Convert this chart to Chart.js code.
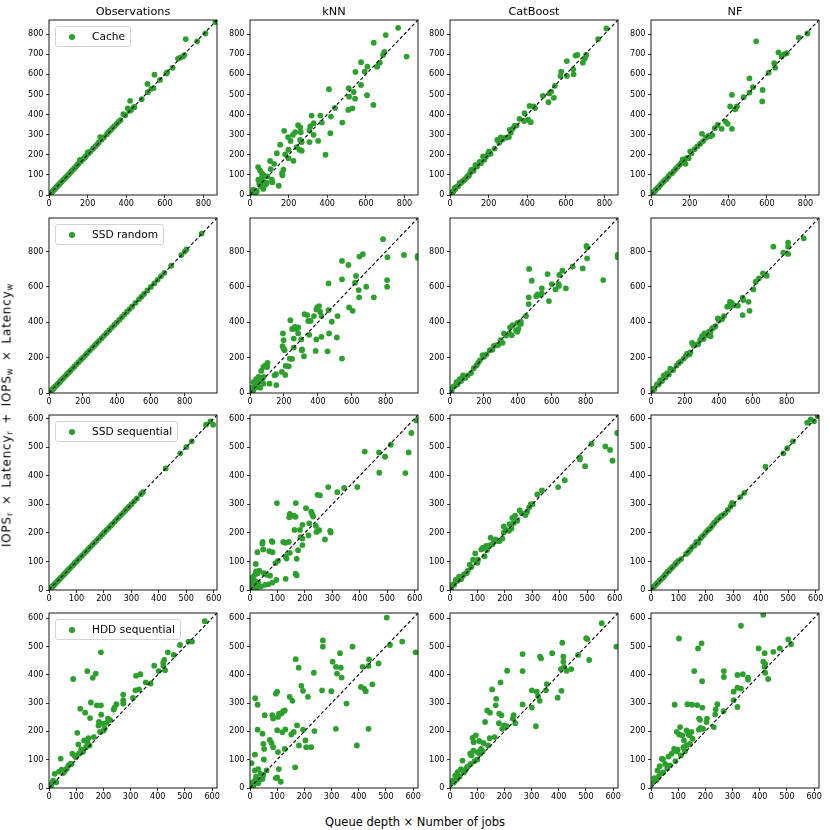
<!DOCTYPE html>
<html><head><meta charset="utf-8">
<script src="https://cdn.jsdelivr.net/npm/chart.js@4.4.1/dist/chart.umd.min.js"></script>
<style>
body{margin:0;background:#fff;width:830px;height:830px;position:relative;overflow:hidden;font-family:"DejaVu Sans",sans-serif;color:#000;}
.pw{position:absolute;}
.title{position:absolute;font-size:11.3px;line-height:16px;height:16px;text-align:center;white-space:nowrap;}
.legend{position:absolute;border:1px solid #d3d3d3;border-radius:3px;background:rgba(255,255,255,0.85);font-size:10.6px;line-height:19px;height:19px;padding:0 5px 0 36px;white-space:nowrap;}
.legend .dot{position:absolute;left:13px;top:7px;width:5.6px;height:5.6px;border-radius:50%;background:#2ca02c;}
.xlab{position:absolute;left:215px;width:400px;top:814px;text-align:center;font-size:11.5px;line-height:16px;}
.ylab{position:absolute;left:8px;top:415px;transform:translate(-50%,-50%) rotate(-90deg);font-size:12px;letter-spacing:0.8px;word-spacing:2px;line-height:16px;white-space:nowrap;}
.ylab sub{font-size:8.4px;vertical-align:-2px;}
</style></head>
<body>
<script>
// ---------- data ----------
const methods = ["Observations","kNN","CatBoost","NF"];
const workloads = ["Cache","SSD random","SSD sequential","HDD sequential"];
const axisMax = [870, 990, 612, 618];
const xTicks = [[0,200,400,600,800],[0,200,400,600,800],[0,100,200,300,400,500,600],[0,100,200,300,400,500,600]];
const yTicks = [[0,100,200,300,400,500,600,700,800],[0,200,400,600,800],[0,100,200,300,400,500,600],[0,100,200,300,400,500,600]];

const cacheObs = [[3,3],[6,6],[10,10],[14,14],[18,18],[22,23],[27,27],[32,32],[36,37],[40,41],[45,46],[50,50],[55,56],[60,61],[66,67],[72,73],[78,79],[85,86],[92,93],[100,101],[108,109],[115,117],[122,124],[130,132],[138,140],[145,148],[152,155],[160,175],[165,167],[175,177],[182,184],[190,193],[200,212],[205,206],[215,217],[228,230],[240,242],[250,252],[258,262],[265,288],[272,275],[285,287],[300,302],[310,314],[318,322],[328,332],[338,342],[350,354],[360,364],[370,372],[385,402],[395,396],[408,431],[416,418],[420,468],[425,423],[440,438],[442,436],[480,476],[510,552],[512,511],[530,528],[541,531],[546,598],[575,572],[608,604],[612,610],[640,632],[668,678],[680,683],[694,688],[700,695],[708,775],[767,764],[810,803],[862,860]];
const cacheKnn = [[767,831],[703,795],[641,757],[811,688],[689,696],[696,712],[672,658],[658,638],[575,660],[608,638],[594,613],[546,612],[575,547],[511,531],[537,512],[544,479],[513,489],[606,496],[639,448],[530,431],[509,423],[409,526],[440,433],[419,390],[478,360],[416,307],[391,200],[319,395],[364,395],[330,357],[372,360],[312,341],[308,321],[329,299],[353,269],[308,263],[249,347],[260,336],[263,312],[234,312],[222,299],[260,274],[242,238],[256,225],[268,220],[268,263],[197,288],[210,269],[177,319],[199,225],[225,170],[199,183],[182,202],[156,250],[139,208],[173,126],[168,98],[166,109],[149,46],[125,155],[104,169],[107,129],[69,101],[42,139],[52,122],[61,109],[43,76],[69,68],[87,60],[90,93],[116,63],[55,43],[69,30],[35,18],[17,26],[26,10],[9,3],[113,76],[80,51],[62,88],[55,76],[48,56],[66,38],[20,15],[30,20],[5,8]];
const cacheCat = [[3,3],[8,8],[13,14],[18,19],[24,35],[28,30],[35,42],[42,44],[50,60],[55,58],[62,66],[70,72],[76,76],[85,86],[92,95],[98,96],[105,112],[110,125],[116,126],[122,120],[131,149],[140,142],[153,164],[160,158],[171,192],[178,175],[185,190],[195,200],[202,217],[210,205],[231,231],[245,274],[255,260],[262,286],[270,275],[276,283],[290,285],[305,288],[309,324],[315,310],[325,330],[334,344],[345,345],[360,378],[384,368],[386,407],[405,374],[412,443],[418,362],[434,440],[440,432],[481,493],[510,461],[515,505],[524,514],[538,483],[543,543],[572,592],[576,613],[605,666],[605,592],[638,625],[640,600],[650,693],[660,696],[688,658],[698,679],[705,696],[767,775],[810,828]];
const cacheNf = [[3,3],[8,9],[14,14],[20,20],[26,28],[32,33],[40,40],[48,50],[56,58],[64,66],[72,74],[80,80],[90,92],[100,104],[108,108],[118,118],[128,130],[138,140],[148,150],[156,160],[164,177],[172,170],[179,155],[185,185],[195,183],[203,217],[210,208],[225,228],[240,242],[255,255],[264,304],[270,268],[285,285],[300,295],[307,291],[318,298],[330,332],[345,348],[366,329],[386,365],[397,354],[410,440],[419,498],[419,329],[436,426],[445,440],[479,486],[510,509],[510,580],[528,536],[545,764],[576,465],[578,522],[609,608],[638,655],[643,633],[660,709],[676,688],[690,700],[703,705],[766,782],[810,803]];

const ssdrObs = [[2,2],[6,6],[10,10],[15,15],[20,20],[26,26],[32,32],[38,38],[45,45],[52,52],[60,60],[68,68],[76,76],[85,85],[95,95],[105,105],[115,115],[125,125],[138,138],[150,150],[162,162],[175,175],[188,188],[200,200],[212,212],[225,225],[240,240],[255,255],[268,268],[280,280],[295,295],[310,310],[325,325],[340,340],[355,355],[370,370],[385,385],[400,400],[415,415],[430,430],[445,445],[460,460],[475,475],[490,490],[510,510],[530,530],[545,545],[560,560],[580,580],[600,600],[620,620],[640,640],[660,660],[680,680],[720,720],[780,780],[800,800],[810,812],[900,902]];
const ssdrKnn = [[784,870],[645,772],[665,785],[810,768],[907,781],[988,775],[988,765],[542,747],[580,724],[625,662],[619,624],[641,582],[643,541],[685,601],[730,541],[808,639],[808,601],[463,620],[542,643],[584,484],[605,465],[516,435],[463,469],[482,403],[466,337],[512,314],[542,195],[413,460],[407,492],[391,473],[397,484],[421,435],[377,435],[357,408],[322,446],[337,441],[343,408],[349,329],[391,303],[387,238],[457,236],[421,318],[284,371],[264,374],[274,362],[248,362],[284,337],[238,412],[262,365],[194,337],[198,299],[192,265],[198,251],[204,242],[258,308],[258,257],[302,303],[307,246],[305,242],[318,208],[234,195],[248,193],[228,151],[210,153],[188,119],[208,102],[153,106],[145,100],[155,45],[103,170],[89,155],[79,147],[101,147],[66,125],[115,53],[79,53],[79,91],[71,79],[36,78],[20,62],[50,62],[60,30],[40,34],[20,15],[6,6],[30,43],[50,91],[12,30]];
const ssdrCat = [[804,832],[808,823],[808,762],[723,715],[782,705],[988,781],[988,768],[903,639],[466,702],[482,635],[575,673],[644,668],[662,692],[541,592],[541,564],[516,558],[508,548],[531,554],[583,520],[600,616],[640,616],[622,586],[642,605],[683,592],[464,541],[464,503],[448,435],[397,397],[417,390],[417,403],[389,355],[397,346],[403,363],[354,371],[369,384],[364,327],[350,337],[318,337],[310,284],[298,299],[284,272],[259,267],[235,242],[215,219],[192,214],[176,185],[156,155],[124,113],[77,87],[77,100],[57,78],[38,62],[18,34],[4,9],[10,14],[28,40],[45,50],[65,68],[90,85],[105,100],[140,140],[165,170],[200,205],[250,245],[275,270],[330,325]];
const ssdrNf = [[900,875],[808,851],[808,828],[808,787],[780,794],[721,828],[682,664],[660,677],[636,649],[617,630],[603,586],[540,539],[544,526],[575,516],[581,465],[540,441],[512,494],[475,511],[465,516],[461,492],[489,497],[449,488],[420,418],[394,422],[370,371],[380,378],[351,346],[351,321],[331,327],[315,337],[301,321],[278,276],[242,284],[252,267],[232,229],[213,223],[193,195],[164,170],[114,138],[95,113],[75,100],[55,72],[35,49],[12,25],[5,6],[20,22],[45,48],[65,68],[85,88],[105,104],[130,130],[150,155],[175,178],[205,210],[225,218],[262,272],[290,300],[310,305],[340,345],[360,365],[400,410],[430,435]];

const ssdsObs = [[2,2],[5,5],[8,8],[12,12],[15,15],[18,18],[22,22],[26,26],[30,30],[34,34],[38,38],[42,42],[47,47],[52,52],[56,56],[60,60],[65,65],[70,70],[75,75],[80,80],[86,86],[92,92],[98,98],[105,105],[112,112],[120,120],[128,128],[135,135],[142,142],[150,150],[158,158],[165,165],[172,172],[180,180],[188,188],[195,195],[202,202],[210,210],[218,218],[225,225],[232,232],[240,240],[248,248],[255,255],[262,262],[270,270],[278,278],[285,285],[292,292],[300,300],[310,310],[320,320],[335,335],[342,342],[425,425],[478,478],[500,500],[520,520],[572,578],[588,590],[598,578]];
const ssdsKnn = [[606,593],[588,549],[418,484],[470,481],[492,466],[513,508],[578,481],[471,410],[566,409],[391,360],[343,357],[318,342],[285,360],[98,304],[167,304],[145,266],[160,260],[166,256],[143,254],[204,286],[223,274],[226,266],[230,257],[246,333],[255,331],[216,233],[240,224],[191,228],[213,191],[162,210],[182,210],[184,185],[191,180],[191,157],[175,139],[170,109],[166,57],[170,51],[128,165],[141,168],[121,168],[145,130],[130,118],[133,110],[93,94],[102,102],[82,168],[79,171],[70,136],[82,132],[46,168],[45,162],[48,142],[21,91],[27,132],[22,65],[28,59],[34,68],[51,59],[61,53],[73,50],[82,26],[67,20],[96,35],[130,39],[18,53],[12,35],[6,30],[242,203],[252,209],[292,207],[294,201],[273,177],[5,10],[10,45],[15,20],[3,40],[20,30],[8,15],[30,25],[40,12],[55,18],[25,8],[13,5]];
const ssdsCat = [[609,549],[566,502],[583,490],[592,452],[492,433],[473,464],[473,457],[515,511],[418,384],[394,360],[335,348],[318,334],[294,299],[288,289],[281,274],[275,262],[254,278],[237,260],[245,242],[232,234],[227,252],[217,230],[224,215],[215,207],[196,222],[196,201],[191,180],[181,171],[166,177],[173,171],[160,171],[148,183],[142,156],[132,154],[120,148],[114,142],[92,128],[126,118],[102,106],[84,106],[72,89],[60,59],[45,47],[33,47],[21,35],[11,20],[4,6],[15,18],[28,32],[40,38],[52,55],[65,68],[78,80],[95,100],[100,95],[135,140],[155,160],[205,210],[262,268],[300,300]];
const ssdsNf = [[3,3],[6,8],[10,12],[14,15],[18,20],[22,24],[26,27],[30,32],[35,36],[40,41],[45,45],[50,52],[55,57],[60,64],[65,66],[70,72],[75,77],[80,82],[88,90],[95,97],[100,102],[110,108],[128,126],[135,132],[142,140],[150,150],[158,155],[165,168],[172,165],[180,180],[185,186],[192,192],[200,202],[208,210],[215,215],[222,224],[228,232],[232,236],[240,245],[248,252],[255,258],[262,262],[270,268],[280,280],[290,292],[295,305],[300,300],[325,325],[340,340],[417,431],[482,478],[496,496],[517,520],[569,585],[582,597],[594,590],[608,608]];

const hddObs = [[3,3],[6,6],[9,14],[15,26],[21,50],[27,20],[37,58],[43,104],[46,65],[52,53],[58,60],[65,68],[71,79],[78,85],[83,85],[86,121],[89,385],[94,115],[99,109],[104,195],[108,154],[110,121],[115,280],[118,136],[125,128],[129,168],[133,266],[136,144],[141,161],[141,413],[145,176],[149,150],[151,247],[154,302],[161,389],[165,180],[172,404],[176,292],[182,221],[184,233],[188,198],[191,479],[191,292],[192,259],[197,227],[201,203],[205,210],[211,230],[217,245],[225,240],[238,277],[241,284],[248,296],[273,330],[273,310],[273,298],[309,318],[318,345],[331,348],[320,396],[336,402],[356,373],[374,369],[387,432],[403,413],[420,442],[421,432],[424,452],[427,416],[437,479],[459,470],[482,505],[513,517],[526,517],[573,589]];
const hddKnn = [[503,602],[268,521],[268,499],[515,505],[560,517],[609,479],[331,476],[377,499],[168,455],[179,425],[304,446],[316,428],[320,404],[334,425],[337,390],[414,428],[408,357],[420,351],[426,342],[450,366],[473,440],[438,454],[436,431],[235,407],[265,345],[299,342],[355,298],[189,361],[195,343],[146,322],[100,340],[95,333],[19,317],[28,294],[54,257],[156,308],[213,322],[128,274],[122,271],[116,263],[107,263],[85,245],[103,251],[82,257],[100,204],[130,207],[119,197],[161,198],[173,221],[152,189],[195,206],[204,168],[225,144],[207,144],[237,201],[316,209],[436,209],[393,150],[85,144],[103,127],[128,138],[73,170],[79,159],[46,192],[28,206],[49,156],[52,138],[18,118],[6,88],[51,101],[61,62],[49,46],[18,62],[30,67],[39,50],[46,32],[18,26],[10,20],[30,17],[113,22],[106,67],[166,73],[180,150],[100,37],[95,35],[22,40],[12,8],[35,28]];
const hddCat = [[558,582],[501,529],[505,526],[512,452],[471,470],[376,476],[413,513],[417,464],[417,446],[420,428],[408,420],[446,420],[429,414],[331,464],[335,458],[267,473],[267,413],[210,414],[186,373],[155,348],[170,315],[168,292],[137,274],[147,266],[181,263],[189,257],[180,229],[192,209],[199,221],[209,218],[234,257],[231,245],[240,229],[267,295],[301,345],[301,284],[319,340],[324,324],[316,218],[330,308],[353,345],[356,367],[396,319],[410,343],[129,233],[95,186],[83,177],[107,166],[123,159],[114,138],[87,162],[86,132],[74,121],[79,115],[100,127],[76,85],[46,97],[40,67],[28,56],[19,44],[10,26],[4,17],[164,180],[146,176],[612,499],[60,70],[50,55],[35,40],[25,30],[15,20],[120,130],[100,100],[65,75],[140,150],[110,120],[90,95],[55,60]];
const hddNf = [[413,612],[331,573],[103,528],[186,511],[173,493],[396,493],[418,476],[450,481],[474,493],[505,525],[515,508],[413,446],[420,438],[418,428],[420,407],[431,385],[338,402],[357,390],[357,383],[318,399],[318,354],[331,351],[304,340],[304,310],[318,286],[268,413],[268,392],[267,271],[159,413],[188,377],[87,294],[134,296],[151,294],[170,293],[189,284],[244,296],[238,278],[236,260],[231,215],[206,245],[177,245],[204,233],[192,209],[107,215],[115,186],[121,168],[131,203],[137,192],[141,186],[149,198],[95,198],[104,189],[176,206],[182,212],[180,241],[153,174],[143,156],[131,150],[119,144],[98,135],[95,129],[76,121],[85,138],[64,111],[44,101],[52,85],[40,103],[32,77],[24,62],[12,35],[5,18],[34,50],[60,70],[70,80],[45,55],[20,28],[28,40],[90,95],[110,115],[125,130]];

const panels = [
  [cacheObs, cacheKnn, cacheCat, cacheNf],
  [ssdrObs, ssdrKnn, ssdrCat, ssdrNf],
  [ssdsObs, ssdsKnn, ssdsCat, ssdsNf],
  [hddObs, hddKnn, hddCat, hddNf]
];

// ---------- layout ----------
const colLeft = [49, 250, 450, 651];
const rowTop = [20, 218, 415, 613];
const PW = 168, PH = 175;
const PADT = 8, PADR = 10, AXW = 40, AXH = 18;
const GREEN = '#2ca02c';

const frame = {id:'frame', afterDraw(ch){
  const a = ch.chartArea, c = ch.ctx;
  c.save(); c.strokeStyle = '#000'; c.lineWidth = 0.9;
  c.strokeRect(a.left, a.top, a.right - a.left, a.bottom - a.top);
  c.restore();
}};

function axisCfg(r, ticksArr, isX){
  return {
    type:'linear', min:0, max:axisMax[r],
    afterBuildTicks: s => { s.ticks = ticksArr.map(v => ({value:v})); },
    afterFit: s => { if (isX) s.height = AXH; else s.width = AXW; },
    grid:{display:true, drawOnChartArea:false, drawTicks:true, tickLength:3, color:'#000', lineWidth:0.8},
    border:{display:false},
    ticks:{font:{family:'DejaVu Sans', size:8.1}, color:'#000', padding:isX ? 1.5 : 2.5, maxRotation:0, autoSkip:false}
  };
}

for (let r = 0; r < 4; r++) {
  for (let c = 0; c < 4; c++) {
    const w = document.createElement('div');
    w.className = 'pw';
    const cw = AXW + PW + PADR, chh = PADT + PH + AXH;
    w.style.left = (colLeft[c] - AXW) + 'px';
    w.style.top = (rowTop[r] - PADT) + 'px';
    w.style.width = cw + 'px'; w.style.height = chh + 'px';
    const cv = document.createElement('canvas');
    cv.width = cw; cv.height = chh;
    w.appendChild(cv);
    document.body.appendChild(w);
    new Chart(cv.getContext('2d'), {
      type:'scatter',
      data:{datasets:[
        {type:'line', data:[{x:0,y:0},{x:axisMax[r],y:axisMax[r]}], borderColor:'#000', borderWidth:1.1, borderDash:[3.5,2.2], pointRadius:0, order:0, clip:0},
        {data:panels[r][c].map(p => ({x:p[0], y:p[1]})), backgroundColor:GREEN, borderColor:GREEN, borderWidth:0, pointRadius:2.9, order:1, clip:0}
      ]},
      options:{
        responsive:false, animation:false, events:[],
        layout:{padding:{left:0, top:PADT, right:PADR, bottom:0}},
        plugins:{legend:{display:false}, tooltip:{enabled:false}},
        scales:{x:axisCfg(r, xTicks[r], true), y:axisCfg(r, yTicks[r], false)}
      },
      plugins:[frame]
    });
  }
}

// titles
methods.forEach((m, c) => {
  const d = document.createElement('div');
  d.className = 'title'; d.textContent = m;
  d.style.left = (colLeft[c] - 50) + 'px'; d.style.width = (PW + 100) + 'px'; d.style.top = '4px';
  document.body.appendChild(d);
});
// legends
workloads.forEach((n, r) => {
  const d = document.createElement('div');
  d.className = 'legend';
  d.style.left = (colLeft[0] + 6) + 'px'; d.style.top = (rowTop[r] + 6) + 'px';
  d.innerHTML = '<span class="dot"></span>' + n;
  document.body.appendChild(d);
});
</script>
<div class="ylab">IOPS<sub>r</sub> × Latency<sub>r</sub> + IOPS<sub>w</sub> × Latency<sub>w</sub></div>
<div class="xlab">Queue depth × Number of jobs</div>
</body></html>
